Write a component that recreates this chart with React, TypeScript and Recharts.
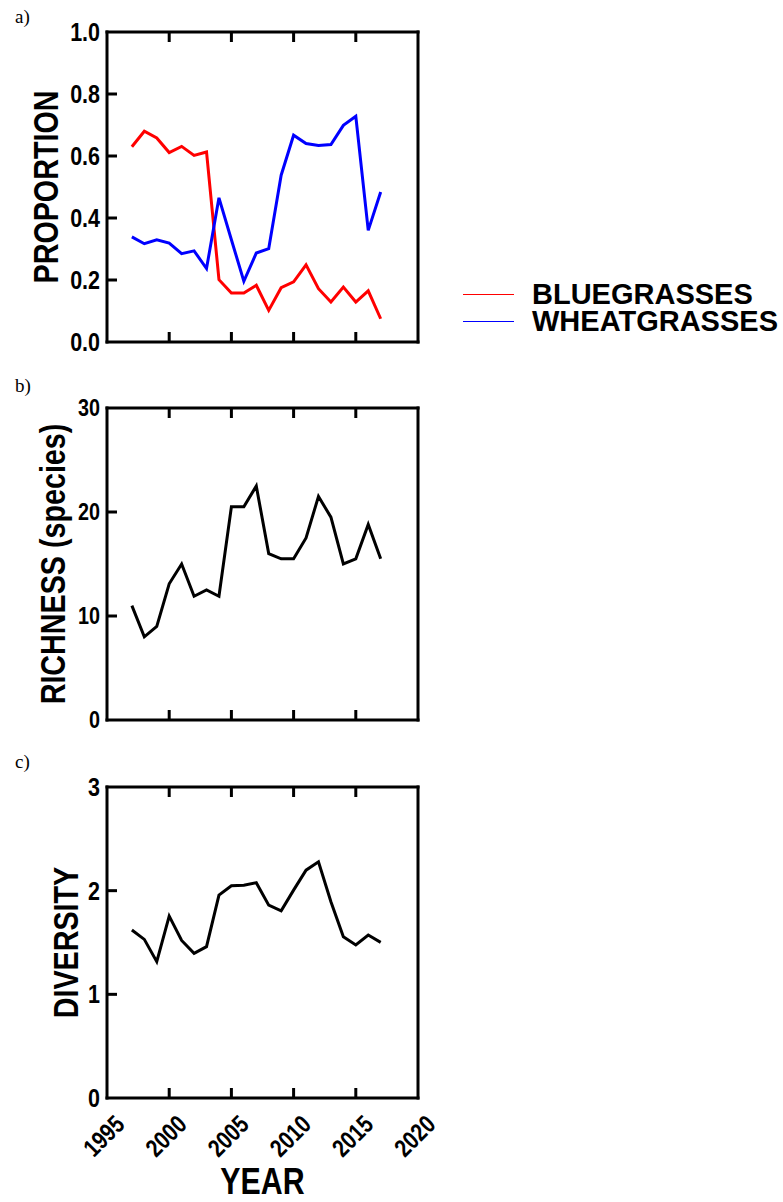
import React from 'react';
import { LineChart, Line, XAxis, YAxis, Legend } from 'recharts';

// ---------- data ----------
const years = [1997, 1998, 1999, 2000, 2001, 2002, 2003, 2004, 2005, 2006, 2007, 2008, 2009, 2010, 2011, 2012, 2013, 2014, 2015, 2016, 2017];
const bluegrasses = [0.63, 0.68, 0.658, 0.611, 0.631, 0.602, 0.613, 0.201, 0.158, 0.158, 0.183, 0.102, 0.175, 0.194, 0.249, 0.172, 0.129, 0.177, 0.129, 0.165, 0.075];
const wheatgrasses = [0.339, 0.317, 0.33, 0.319, 0.285, 0.294, 0.237, 0.465, 0.33, 0.196, 0.287, 0.301, 0.538, 0.667, 0.64, 0.634, 0.637, 0.699, 0.728, 0.36, 0.484];
const richness = [11, 8, 9, 13.1, 15, 11.9, 12.5, 11.9, 20.5, 20.5, 22.5, 16, 15.5, 15.5, 17.5, 21.5, 19.5, 15, 15.5, 18.8, 15.5];
const diversity = [1.62, 1.53, 1.315, 1.755, 1.52, 1.395, 1.46, 1.957, 2.047, 2.053, 2.076, 1.86, 1.806, 2.005, 2.198, 2.278, 1.893, 1.556, 1.476, 1.572, 1.501];

const xTicks = [1995, 2000, 2005, 2010, 2015, 2020];
const xDomain = [1995, 2020];
const propTicks = [0, 0.2, 0.4, 0.6, 0.8, 1.0];
const richTicks = [0, 10, 20, 30];
const divTicks = [0, 1, 2, 3];

const seriesNames = { blue: 'BLUEGRASSES', wheat: 'WHEATGRASSES' };

const propData = years.map((year, i) => ({ year, BLUEGRASSES: bluegrasses[i], WHEATGRASSES: wheatgrasses[i] }));
const richData = years.map((year, i) => ({ year, richness: richness[i] }));
const divData = years.map((year, i) => ({ year, diversity: diversity[i] }));

// ---------- styles ----------
const SANS = "'Liberation Sans', Arial, sans-serif";
const SERIF = "'Liberation Serif', 'Times New Roman', serif";
const NARROW_SCALE = 0.82;
const TICK_SCALE = 0.86;
const TICK_LEN = 10;
const W = 783;
const frameLine = { stroke: '#000', strokeWidth: 3, strokeLinecap: 'square' as const };

const isInner = (v: number, ticks: number[]) => v !== ticks[0] && v !== ticks[ticks.length - 1];

const NarrowText = ({ transform, fontSize, anchor, scale, children }: any) => (
  <text
    transform={`${transform} scale(${scale ?? NARROW_SCALE},1)`}
    x={0}
    y={0}
    textAnchor={anchor}
    fontFamily={SANS}
    fontWeight="bold"
    fontSize={fontSize}
    fill="#000"
  >
    {children}
  </text>
);

const makeBottomTick = (ticks: number[], showLabel: boolean) => (props: any) => {
  const { x, y, payload } = props;
  return (
    <g>
      {isInner(payload.value, ticks) && (
        <line x1={x} y1={y} x2={x} y2={y - TICK_LEN} stroke="#000" strokeWidth={3} />
      )}
      {showLabel && (
        <NarrowText transform={`translate(${x + 19},${y + 28}) rotate(-45)`} fontSize={25} anchor="end" scale={0.82}>
          {payload.value}
        </NarrowText>
      )}
    </g>
  );
};

const makeTopTick = (ticks: number[]) => (props: any) => {
  const { x, y, payload } = props;
  return isInner(payload.value, ticks) ? (
    <line x1={x} y1={y} x2={x} y2={y + TICK_LEN} stroke="#000" strokeWidth={3} />
  ) : (
    <g />
  );
};

const makeLeftTick = (ticks: number[], fmt: (v: number) => string, fontSize: number) => (props: any) => {
  const { x, y, payload } = props;
  return (
    <g>
      {isInner(payload.value, ticks) && (
        <line x1={x} y1={y} x2={x + TICK_LEN} y2={y} stroke="#000" strokeWidth={3} />
      )}
      <NarrowText
        transform={`translate(${x - 7},${y + fontSize * 0.36})`}
        fontSize={fontSize}
        anchor="end"
        scale={TICK_SCALE}
      >
        {fmt(payload.value)}
      </NarrowText>
    </g>
  );
};

const makeRightTick = (ticks: number[]) => (props: any) => {
  const { x, y, payload } = props;
  return isInner(payload.value, ticks) ? (
    <line x1={x} y1={y} x2={x - TICK_LEN} y2={y} stroke="#000" strokeWidth={3} />
  ) : (
    <g />
  );
};

const makeYTitle = (text: string, baselineX: number, fallbackCy: number) => (props: any) => {
  const vb = props && props.viewBox;
  const cy = vb && typeof vb.y === 'number' && typeof vb.height === 'number' ? vb.y + vb.height / 2 : fallbackCy;
  return (
    <NarrowText transform={`translate(${baselineX},${cy}) rotate(-90)`} fontSize={35} anchor="middle">
      {text}
    </NarrowText>
  );
};

const makeXTitle = (text: string, baselineFromBottom: number) => (props: any) => {
  const vb = props && props.viewBox;
  const cx = vb && typeof vb.x === 'number' ? vb.x + vb.width / 2 : 262;
  const by = vb && typeof vb.y === 'number' ? vb.y + vb.height - baselineFromBottom : 460;
  return (
    <NarrowText transform={`translate(${cx},${by})`} fontSize={37} anchor="middle">
      {text}
    </NarrowText>
  );
};

const renderLegend = (props: any) => {
  const payload = props.payload || [];
  return (
    <div style={{ fontFamily: SANS, fontWeight: 'bold', fontSize: 29, lineHeight: '27px', color: '#000' }}>
      {payload.map((e: any) => (
        <div key={e.value} style={{ display: 'flex', alignItems: 'center', height: 27, whiteSpace: 'nowrap' }}>
          <span
            style={{ display: 'inline-block', width: 51, height: 0, borderTop: `1.5px solid ${e.color}`, marginRight: 18 }}
          />
          <span style={{ display: 'inline-block', height: 27, lineHeight: '27px', overflow: 'visible' }}>{e.value}</span>
        </div>
      ))}
    </div>
  );
};

const PanelLabel = ({ text, top }: { text: string; top: number }) => (
  <div
    style={{
      position: 'absolute',
      left: 15,
      top,
      fontFamily: SERIF,
      fontSize: 19,
      lineHeight: '19px',
      color: '#000',
    }}
  >
    {text}
  </div>
);

const commonX = {
  dataKey: 'year',
  type: 'number' as const,
  domain: xDomain,
  ticks: xTicks,
  axisLine: frameLine,
  tickLine: false,
  tickSize: 0,
  tickMargin: 0,
  interval: 0 as const,
};

export default function App() {
  const leftW = 60;
  const marginLR = { left: 107 - leftW, right: W - 418 - 1 };
  return (
    <div style={{ position: 'absolute', left: 0, top: 0, width: W, height: 1202, background: '#fff', overflow: 'hidden' }}>
      <PanelLabel text="a)" top={7} />
      <PanelLabel text="b)" top={376} />
      <PanelLabel text="c)" top={752} />

      {/* Panel a */}
      <div style={{ position: 'absolute', left: 0, top: 0 }}>
        <LineChart width={W} height={360} data={propData} margin={{ top: 31, bottom: 17, ...marginLR }}>
          <XAxis xAxisId="bottom" orientation="bottom" height={1} tick={makeBottomTick(xTicks, false)} {...commonX} />
          <XAxis xAxisId="top" orientation="top" height={1} tick={makeTopTick(xTicks)} {...commonX} />
          <YAxis
            yAxisId="left"
            type="number"
            domain={[0, 1]}
            ticks={propTicks}
            width={leftW}
            axisLine={frameLine}
            tickLine={false}
            tickSize={0}
            tickMargin={0}
            interval={0}
            tick={makeLeftTick(propTicks, (v) => v.toFixed(1), 25)}
            label={makeYTitle('PROPORTION', 58, 187)}
          />
          <YAxis
            yAxisId="right"
            orientation="right"
            type="number"
            domain={[0, 1]}
            ticks={propTicks}
            width={1}
            axisLine={frameLine}
            tickLine={false}
            tickSize={0}
            tickMargin={0}
            interval={0}
            tick={makeRightTick(propTicks)}
          />
          <Legend
            content={renderLegend}
            layout="horizontal"
            verticalAlign="middle"
            align="center"
            wrapperStyle={{ left: 463, top: 281, width: 320 }}
          />
          <Line
            xAxisId="bottom"
            yAxisId="left"
            type="linear"
            dataKey="BLUEGRASSES"
            name={seriesNames.blue}
            stroke="#ff0000"
            strokeWidth={3}
            dot={false}
            isAnimationActive={false}
          />
          <Line
            xAxisId="bottom"
            yAxisId="left"
            type="linear"
            dataKey="WHEATGRASSES"
            name={seriesNames.wheat}
            stroke="#0000ff"
            strokeWidth={3}
            dot={false}
            isAnimationActive={false}
          />
        </LineChart>
      </div>

      {/* Panel b */}
      <div style={{ position: 'absolute', left: 0, top: 360 }}>
        <LineChart width={W} height={380} data={richData} margin={{ top: 47, bottom: 19, ...marginLR }}>
          <XAxis xAxisId="bottom" orientation="bottom" height={1} tick={makeBottomTick(xTicks, false)} {...commonX} />
          <XAxis xAxisId="top" orientation="top" height={1} tick={makeTopTick(xTicks)} {...commonX} />
          <YAxis
            yAxisId="left"
            type="number"
            domain={[0, 30]}
            ticks={richTicks}
            width={leftW}
            axisLine={frameLine}
            tickLine={false}
            tickSize={0}
            tickMargin={0}
            interval={0}
            tick={makeLeftTick(richTicks, (v) => String(v), 23)}
            label={makeYTitle('RICHNESS (species)', 65, 204)}
          />
          <YAxis
            yAxisId="right"
            orientation="right"
            type="number"
            domain={[0, 30]}
            ticks={richTicks}
            width={1}
            axisLine={frameLine}
            tickLine={false}
            tickSize={0}
            tickMargin={0}
            interval={0}
            tick={makeRightTick(richTicks)}
          />
          <Line
            xAxisId="bottom"
            yAxisId="left"
            type="linear"
            dataKey="richness"
            name="RICHNESS"
            stroke="#000"
            strokeWidth={3}
            dot={false}
            isAnimationActive={false}
          />
        </LineChart>
      </div>

      {/* Panel c */}
      <div style={{ position: 'absolute', left: 0, top: 740 }}>
        <LineChart width={W} height={462} data={divData} margin={{ top: 46, bottom: 0, ...marginLR }}>
          <XAxis
            xAxisId="bottom"
            orientation="bottom"
            height={104}
            tick={makeBottomTick(xTicks, true)}
            label={makeXTitle('YEAR', 8)}
            {...commonX}
          />
          <XAxis xAxisId="top" orientation="top" height={1} tick={makeTopTick(xTicks)} {...commonX} />
          <YAxis
            yAxisId="left"
            type="number"
            domain={[0, 3]}
            ticks={divTicks}
            width={leftW}
            axisLine={frameLine}
            tickLine={false}
            tickSize={0}
            tickMargin={0}
            interval={0}
            tick={makeLeftTick(divTicks, (v) => String(v), 25)}
            label={makeYTitle('DIVERSITY', 78, 202)}
          />
          <YAxis
            yAxisId="right"
            orientation="right"
            type="number"
            domain={[0, 3]}
            ticks={divTicks}
            width={1}
            axisLine={frameLine}
            tickLine={false}
            tickSize={0}
            tickMargin={0}
            interval={0}
            tick={makeRightTick(divTicks)}
          />
          <Line
            xAxisId="bottom"
            yAxisId="left"
            type="linear"
            dataKey="diversity"
            name="DIVERSITY"
            stroke="#000"
            strokeWidth={3}
            dot={false}
            isAnimationActive={false}
          />
        </LineChart>
      </div>
    </div>
  );
}
